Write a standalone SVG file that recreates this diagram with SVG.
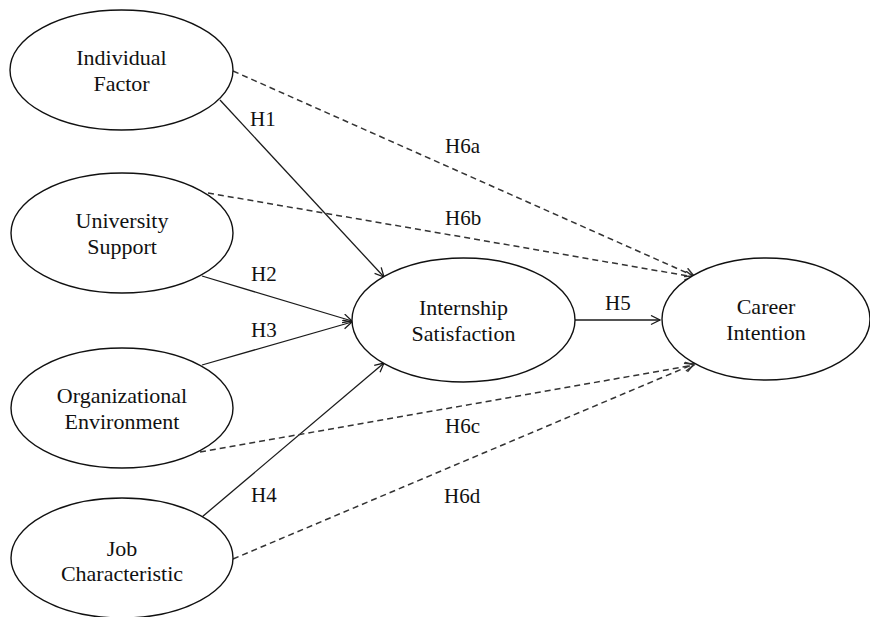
<svg xmlns="http://www.w3.org/2000/svg" width="870" height="617" viewBox="0 0 870 617">
<style>
  .node ellipse { fill: #fff; stroke: #111; stroke-width: 1.4; }
  .node text { font-family: "Liberation Serif", "Times New Roman", serif; font-size: 22px; fill: #111; text-anchor: middle; }
  .solid { stroke: #1a1a1a; stroke-width: 1.3; fill: none; }
  .dash { stroke: #333; stroke-width: 1.5; fill: none; stroke-dasharray: 6 4; }
  .lbl { font-family: "Liberation Serif", "Times New Roman", serif; font-size: 21px; fill: #111; }
</style>
<defs>
  <marker id="arr" markerUnits="userSpaceOnUse" markerWidth="12" markerHeight="12" refX="10" refY="5" orient="auto">
    <path d="M1,0.5 L10,5 L1,9.5" fill="none" stroke="#1a1a1a" stroke-width="1.3" stroke-dasharray="none"/>
  </marker>
  <marker id="arrd" markerUnits="userSpaceOnUse" markerWidth="12" markerHeight="12" refX="10" refY="5" orient="auto">
    <path d="M1,0.5 L10,5 L1,9.5" fill="none" stroke="#333" stroke-width="1.5" stroke-dasharray="none"/>
  </marker>
</defs>
<rect width="870" height="617" fill="#fff"/>
<g id="connectors">
  <line class="solid" x1="220" y1="100" x2="384" y2="277" marker-end="url(#arr)"/>
  <line class="solid" x1="202" y1="276" x2="352" y2="321" marker-end="url(#arr)"/>
  <line class="solid" x1="202" y1="365" x2="352" y2="322" marker-end="url(#arr)"/>
  <line class="solid" x1="202" y1="517" x2="384" y2="363" marker-end="url(#arr)"/>
  <line class="solid" x1="575" y1="320" x2="660" y2="320" marker-end="url(#arr)"/>
  <line class="dash" x1="233" y1="71" x2="694" y2="276" marker-end="url(#arrd)"/>
  <line class="dash" x1="208" y1="193" x2="694" y2="277" marker-end="url(#arrd)"/>
  <line class="dash" x1="200" y1="452" x2="694" y2="365" marker-end="url(#arrd)"/>
  <line class="dash" x1="233" y1="559" x2="694" y2="364" marker-end="url(#arrd)"/>
  <text class="lbl" x="250" y="126">H1</text>
  <text class="lbl" x="251" y="281">H2</text>
  <text class="lbl" x="251" y="337">H3</text>
  <text class="lbl" x="251" y="502">H4</text>
  <text class="lbl" x="605" y="310">H5</text>
  <text class="lbl" x="445" y="153">H6a</text>
  <text class="lbl" x="445" y="225">H6b</text>
  <text class="lbl" x="445" y="433">H6c</text>
  <text class="lbl" x="444" y="503">H6d</text>
</g>
<g id="individual-factor" class="node">
  <ellipse cx="121.5" cy="70" rx="111.5" ry="60"/>
  <text x="121.5" y="65">Individual</text>
  <text x="121.5" y="91">Factor</text>
</g>
<g id="university-support" class="node">
  <ellipse cx="122" cy="233" rx="111" ry="60"/>
  <text x="122" y="228">University</text>
  <text x="122" y="254">Support</text>
</g>
<g id="organizational-environment" class="node">
  <ellipse cx="122" cy="408" rx="111" ry="60"/>
  <text x="122" y="403">Organizational</text>
  <text x="122" y="429">Environment</text>
</g>
<g id="job-characteristic" class="node">
  <ellipse cx="122" cy="558" rx="111" ry="60"/>
  <text x="122" y="556">Job</text>
  <text x="122" y="581">Characteristic</text>
</g>
<g id="internship-satisfaction" class="node">
  <ellipse cx="463.5" cy="320" rx="111.5" ry="62"/>
  <text x="463.5" y="315">Internship</text>
  <text x="463.5" y="341">Satisfaction</text>
</g>
<g id="career-intention" class="node">
  <ellipse cx="766" cy="319" rx="104" ry="61"/>
  <text x="766" y="314">Career</text>
  <text x="766" y="340">Intention</text>
</g>
</svg>
